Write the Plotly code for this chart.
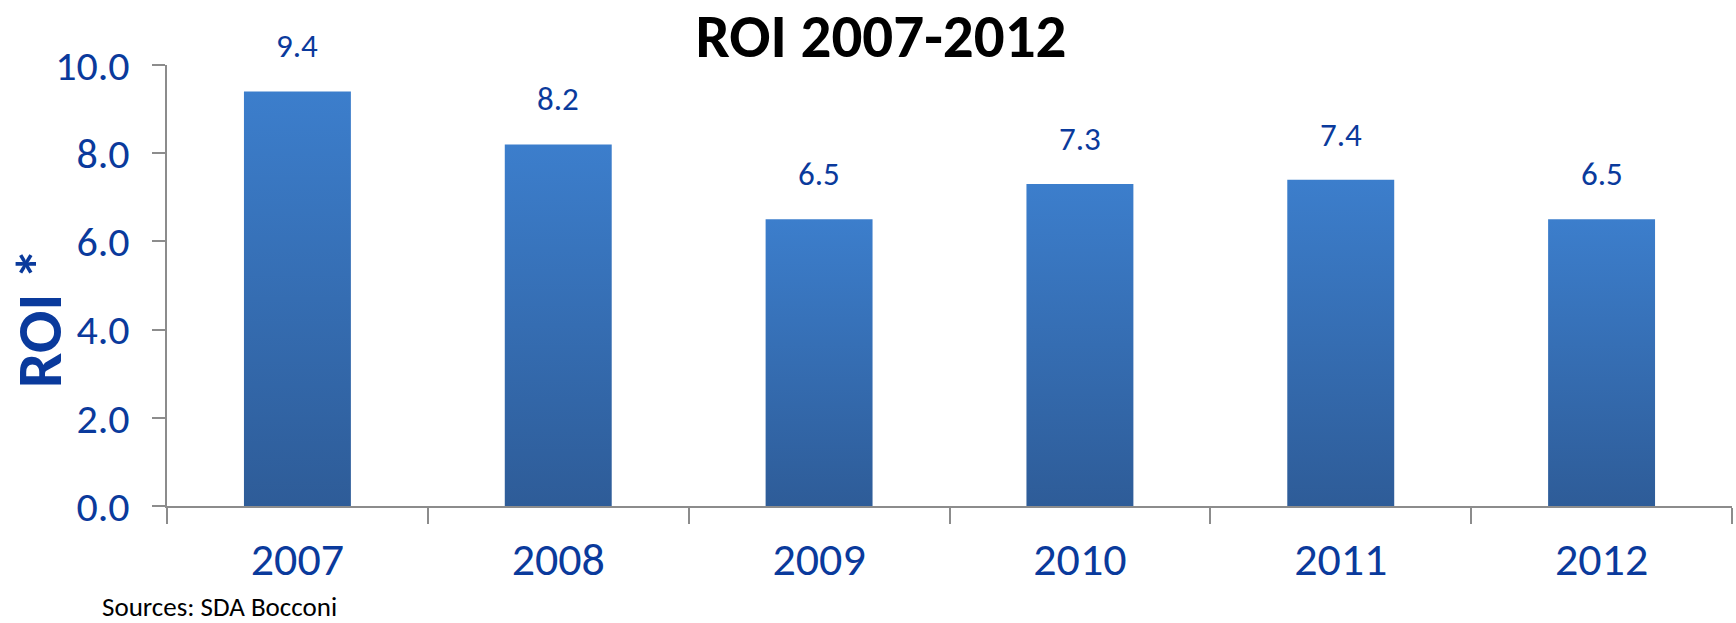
import plotly.graph_objects as go

# ROI per year
years = ["2007", "2008", "2009", "2010", "2011", "2012"]
roi = [9.4, 8.2, 6.5, 7.3, 7.4, 6.5]
y_ticks = [0, 2, 4, 6, 8, 10]

FONT = "Calibri, Carlito, Lato, sans-serif"
BLUE_TEXT = "#0A3A9C"
AXIS_GREY = "#8C8C8C"
BAR_W = 0.41

PLOT_L, PLOT_R, PLOT_T, PLOT_B = 167, 1732, 65, 506
PLOT_W, PLOT_H = PLOT_R - PLOT_L, PLOT_B - PLOT_T

fig = go.Figure()

# Each column is a filled polygon so it can carry a vertical gradient
for i, (yr, v) in enumerate(zip(years, roi)):
    x0, x1 = i - BAR_W / 2, i + BAR_W / 2
    fig.add_trace(go.Scatter(
        x=[x0, x1, x1, x0, x0],
        y=[0, 0, v, v, 0],
        mode="lines",
        line=dict(width=0),
        fill="toself",
        fillgradient=dict(
            type="vertical",
            colorscale=[[0, "#2E5C98"], [1, "#3C7ECC"]],
        ),
        name=yr,
        hoverinfo="skip",
        showlegend=False,
    ))
    fig.add_annotation(
        x=i, y=v, text=f"{v:.1f}", showarrow=False,
        yshift=45, yanchor="middle",
        font=dict(family=FONT, size=33, color=BLUE_TEXT),
    )

# Vertical axis title
fig.add_annotation(
    xref="paper", yref="paper",
    x=(39 - PLOT_L) / PLOT_W, y=(PLOT_B - 318) / PLOT_H,
    xanchor="center", yanchor="middle", showarrow=False,
    text="<b>ROI *</b>", textangle=-90,
    font=dict(family=FONT, size=63, color=BLUE_TEXT),
)

# Source note
fig.add_annotation(
    xref="paper", yref="paper",
    x=(100 - PLOT_L) / PLOT_W, y=-(606 - PLOT_B) / PLOT_H,
    xanchor="left", yanchor="middle", showarrow=False,
    text="Sources: SDA Bocconi",
    font=dict(family=FONT, size=27, color="#000000"),
)

fig.update_layout(
    width=1736, height=623,
    margin=dict(l=PLOT_L, r=1736 - PLOT_R, t=PLOT_T, b=623 - PLOT_B),
    plot_bgcolor="white", paper_bgcolor="white",
    title=dict(
        text="<b>ROI 2007-2012</b>",
        x=881 / 1736, xanchor="center",
        y=1 - 36 / 623, yanchor="middle", yref="container",
        font=dict(family=FONT, size=61, color="#000000"),
    ),
    xaxis=dict(
        range=[-0.5, len(years) - 0.5],
        tickvals=list(range(len(years))), ticktext=years,
        ticks="", ticklabelstandoff=12,
        tickfont=dict(family=FONT, size=46, color=BLUE_TEXT),
        showgrid=False, zeroline=False,
        showline=True, linecolor=AXIS_GREY, linewidth=2,
        minor=dict(
            tickvals=[k - 0.5 for k in range(len(years) + 1)],
            ticks="outside", ticklen=16, tickwidth=2, tickcolor=AXIS_GREY,
            showgrid=False,
        ),
    ),
    yaxis=dict(
        range=[0, 10],
        tickvals=y_ticks, tickformat=".1f",
        ticks="outside", ticklen=13, tickwidth=2, tickcolor=AXIS_GREY,
        ticklabelstandoff=14,
        tickfont=dict(family=FONT, size=42, color=BLUE_TEXT),
        showgrid=False, zeroline=False,
        showline=True, linecolor=AXIS_GREY, linewidth=2,
    ),
)

fig.write_html("out.html")
